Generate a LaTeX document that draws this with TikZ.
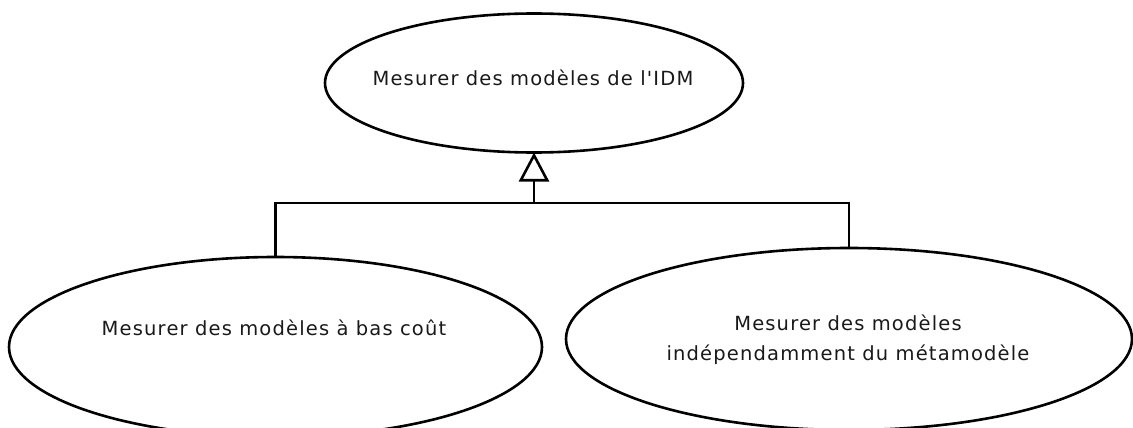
\documentclass[tikz,border=0pt]{standalone}
\usepackage{fontspec}
\setmainfont{DejaVu Sans}[LetterSpace=6,Ligatures=TeXOff]
\usetikzlibrary{shapes.geometric,arrows.meta}
\begin{document}
\begin{tikzpicture}[x=1pt,y=-1pt,
  uc/.style={draw=black,line width=2.6pt,ellipse,inner sep=0pt,outer sep=0pt},
  lbl/.style={font=\fontsize{19.5}{30}\selectfont,align=center,text=black!90,inner sep=0pt},
  link/.style={draw=black,line width=2.6pt}]
\useasboundingbox (0,0) rectangle (1133,428);
\clip (0,0) rectangle (1133,428);
\node[uc,minimum width=418pt,minimum height=139pt] (top) at (534,83) {};
\node[uc,minimum width=533pt,minimum height=180pt] (left) at (275.5,347) {};
\node[uc,minimum width=566pt,minimum height=182pt] (right) at (849,339) {};
\node[lbl] (ttop) at (533,78) {Mesurer des modèles de l'IDM};
\node[lbl] (tleft) at (274,328) {Mesurer des modèles à bas coût};
\node[lbl] (tright) at (848,340) {Mesurer des modèles\\indépendamment du métamodèle};
\coordinate (j) at (534,203);
\draw[link] (left.north) |- (j) -| (right.north);
\draw[link,-{Triangle[open,length=29pt,width=30pt]}] (j) -- (top.south);
\end{tikzpicture}
\end{document}
